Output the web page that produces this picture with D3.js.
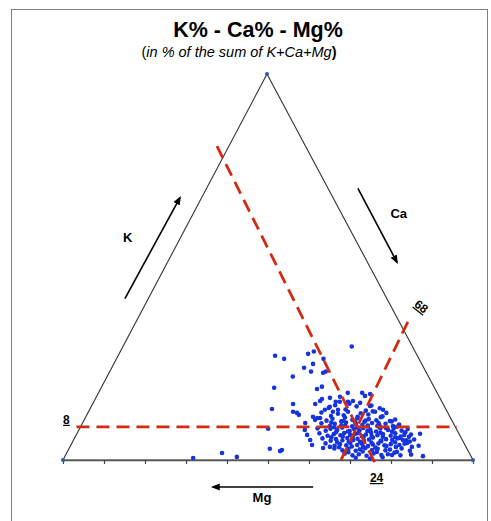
<!DOCTYPE html>
<html>
<head>
<meta charset="utf-8">
<script src="https://cdn.jsdelivr.net/npm/d3@7/dist/d3.min.js"></script>
<style>
  body { margin: 0; background: #fff; }
  text { font-family: "Liberation Sans", Arial, sans-serif; }
</style>
</head>
<body>
<div id="chart"></div>
<script>
// samples as [K%, Mg%] ; Ca% = 100 - K - Mg
const samples = [
    [29.4,14.8],[27.0,34.7],[26.2,32.9],[27.5,26.4],[28.1,24.7],[23.9,29.2],[24.9,26.5],[22.9,28.0],
    [22.6,25.2],[22.9,24.4],[21.6,33.1],[18.7,39.1],[18.4,28.8],[19.0,27.3],[17.4,21.8],[17.4,18.3],
    [17.1,16.5],[16.6,18.0],[14.5,36.6],[13.2,42.4],[12.5,37.6],[12.2,36.8],[11.7,36.6],[14.5,31.2],
    [15.3,29.6],[15.8,28.9],[16.1,26.8],[15.1,25.9],[16.4,24.2],[15.1,24.9],[15.1,22.9],[15.3,21.6],
    [14.8,20.1],[14.0,18.1],[12.5,17.6],[13.0,15.4],[9.6,36.1],[11.2,33.4],[10.4,33.3],[10.9,31.8],
    [13.0,29.6],[13.8,28.0],[12.5,27.9],[13.0,26.4],[8.1,45.9],[7.8,37.1],[6.5,37.2],[5.2,37.1],
    [3.9,37.3],[2.9,48.1],[2.3,45.9],[2.6,45.3],[3.1,35.0],[3.4,33.2],[6.8,9.5],[1.0,11.7],
    [3.4,13.2],[4.4,13.9],[5.2,14.5],[5.7,14.9],[1.3,19.1],[2.1,17.5],[1.8,60.3],[0.8,57.2],
    [0.5,68.0],[26.2,23.3],
    [13.5,28.4],[14.2,26.5],[13.1,24.5],[14.6,22.8],[13.9,21.4],[12.8,19.7],[14.1,17.7],[13.4,16.0],
    [12.3,30.8],[11.4,28.9],[12.0,26.9],[11.6,25.7],[12.5,24.2],[11.2,22.5],[12.1,21.3],[11.8,19.6],
    [12.6,18.1],[11.3,16.4],[12.2,15.0],
    [10.9,32.5],[10.2,30.6],[10.7,28.9],[10.0,27.1],[11.0,25.7],[10.4,24.2],[10.8,22.8],[9.9,21.5],
    [10.6,20.1],[10.3,18.4],[11.1,16.9],[10.1,15.2],[10.5,13.7],
    [9.7,29.7],[10.1,26.5],[9.8,23.8],[10.2,21.1],[9.6,18.2],[10.0,14.8],
    [9.5,32.2],[8.8,30.5],[9.4,29.0],[9.0,27.6],[9.7,26.1],[8.7,25.1],[9.3,23.9],[9.1,22.4],
    [8.9,21.2],[9.6,19.8],[9.0,18.3],[9.4,16.6],[8.8,15.1],[9.2,13.4],
    [8.5,29.6],[8.9,26.7],[8.4,24.0],[8.7,21.3],[8.8,18.9],[8.3,17.1],[8.6,14.2],
    [8.2,33.8],[7.6,32.1],[8.1,30.7],[7.8,29.2],[8.4,27.7],[7.5,26.3],[8.0,25.0],[7.7,23.8],
    [8.3,22.6],[7.9,21.1],[7.4,19.9],[8.2,18.5],[7.8,16.8],[8.1,15.3],[7.6,13.6],[8.0,11.9],
    [7.2,29.8],[7.4,26.8],[7.0,24.4],[7.5,22.0],[7.1,19.0],[7.3,16.1],[7.2,12.9],
    [6.9,34.0],[6.3,32.3],[6.7,30.6],[6.4,29.1],[7.0,27.9],[6.5,26.7],[6.8,25.2],[6.2,24.0],
    [6.6,22.8],[7.1,21.3],[6.4,20.1],[6.7,18.6],[6.3,16.9],[6.9,15.5],[6.5,13.5],[6.6,11.8],
    [5.9,31.6],[6.1,28.7],[6.0,26.3],[5.8,23.8],[6.2,21.6],[6.0,19.0],[5.9,16.0],[6.1,14.6],[6.0,12.6],
    [5.6,33.9],[5.0,32.2],[5.4,30.7],[5.1,29.3],[5.7,27.8],[5.2,26.6],[5.5,25.4],[4.9,24.1],
    [5.3,22.7],[5.8,21.5],[5.0,20.0],[5.4,18.5],[5.2,17.1],[5.6,15.6],[5.1,13.7],[5.3,11.7],
    [4.6,30.8],[4.8,27.9],[4.7,25.2],[4.5,22.5],[4.9,19.9],[4.6,16.7],[4.8,13.0],
    [4.3,33.8],[3.7,31.9],[4.1,30.4],[3.8,29.0],[4.4,27.7],[3.9,26.3],[4.2,25.0],[3.6,23.8],
    [4.0,22.4],[4.3,20.9],[3.8,19.7],[4.1,18.0],[3.9,16.0],[4.2,14.6],[3.7,11.4],
    [3.3,31.0],[3.5,27.8],[3.4,25.1],[3.2,22.2],[3.6,19.3],[3.4,17.1],
    [3.0,32.3],[2.5,30.6],[2.9,28.9],[2.4,27.4],[2.8,26.2],[3.1,24.7],[2.6,23.3],[2.9,21.8],
    [2.5,20.1],[2.7,18.9],[3.0,15.9],[2.4,14.2],
    [2.0,29.4],[2.2,25.8],[2.1,22.4],[1.9,18.2],
    [1.6,30.5],[1.2,28.8],[1.5,27.1],[1.1,25.4],[1.7,23.4],[1.3,21.7],[1.5,20.0],[1.2,17.1],
    [1.4,14.4],
    [0.6,28.3],[0.4,24.9],[0.7,21.7]
];

// limit lines, ends as [K%, Mg%]
const limitNames = ["8", "24", "68"];
const limitFrom = [[8.6, 92.4], [81.3, 21.6], [35.8, -2.1]];
const limitTo = [[8.6, -0.4], [-1.3, 24.3], [0, 32.2]];

const mgTicks = [0, 10, 20, 30, 40, 50, 60, 70, 80, 90, 100];
const axisNames = ["K", "Ca", "Mg"];

const W = 491, H = 521;
const left = 63, right = 473, base = 460, apexX = 267, apexY = 74;
const shift = (apexX - left) / (right - left);

const svg = d3.select("#chart").append("svg")
    .attr("width", W).attr("height", H);

// frame
svg.append("rect")
    .attr("x", 11.5).attr("y", 9.5)
    .attr("width", 476).attr("height", 530)
    .attr("fill", "none").attr("stroke", "#808080").attr("stroke-width", 1);

// scales
const yK = d3.scaleLinear().domain([0, 100]).range([base, apexY]);
const xCa = d3.scaleLinear().domain([0, 100]).range([left, right]);
const xMg = d3.scaleLinear().domain([0, 100]).range([right, left]);

// ternary -> pixel, from K and Mg
const proj = (k, mg) => {
    const ca = 100 - k - mg;
    return [xCa(ca + k * shift), yK(k)];
};

// title
svg.append("text")
    .attr("x", 258).attr("y", 37)
    .attr("text-anchor", "middle")
    .attr("font-size", 21.5).attr("font-weight", "bold")
    .text("K% - Ca% - Mg%");

const sub = svg.append("text")
    .attr("x", 239).attr("y", 57)
    .attr("text-anchor", "middle")
    .attr("font-size", 14.5);
sub.append("tspan").text("(");
sub.append("tspan").attr("font-style", "italic").text("in % of the sum of K+Ca+Mg");
sub.append("tspan").attr("font-weight", "bold").text(")");

// triangle
const corners = [proj(100, 0), proj(0, 0), proj(0, 100)];
svg.append("path")
    .attr("d", d3.line()(corners) + "Z")
    .attr("fill", "none").attr("stroke", "#333").attr("stroke-width", 1.1);

// bottom ticks
const axisG = svg.append("g")
    .attr("transform", `translate(0,${base})`)
    .call(d3.axisBottom(xMg).tickValues(mgTicks).tickSize(4).tickSizeOuter(0).tickFormat(""));
axisG.select(".domain").attr("stroke", "#555").attr("stroke-width", 1.6);
axisG.selectAll(".tick line").attr("stroke", "#444").attr("stroke-width", 1.2);

// vertex dots
svg.append("g").selectAll("circle")
    .data(corners)
    .join("circle")
    .attr("cx", d => d[0]).attr("cy", d => d[1])
    .attr("r", 2).attr("fill", "#2a5db0");

// samples
svg.append("g").selectAll("circle")
    .data(samples)
    .join("circle")
    .attr("cx", d => proj(d[0], d[1])[0])
    .attr("cy", d => proj(d[0], d[1])[1])
    .attr("r", 2.3)
    .attr("fill", "#1533e0");

// limit lines (drawn over the points)
const red = "#d22b12";
svg.append("g").selectAll("line")
    .data(limitNames)
    .join("line")
    .attr("x1", (d, i) => proj(...limitFrom[i])[0])
    .attr("y1", (d, i) => proj(...limitFrom[i])[1])
    .attr("x2", (d, i) => proj(...limitTo[i])[0])
    .attr("y2", (d, i) => proj(...limitTo[i])[1])
    .attr("stroke", red).attr("stroke-width", 2.8)
    .attr("stroke-dasharray", "13,7");

// limit labels
const kEnd = proj(...limitFrom[0]);
svg.append("text")
    .attr("x", kEnd[0] - 10).attr("y", kEnd[1] - 3)
    .attr("text-anchor", "middle").attr("font-size", 12).attr("font-weight", "bold")
    .attr("text-decoration", "underline")
    .text(limitNames[0]);

const mgEnd = proj(0, 24);
svg.append("text")
    .attr("x", mgEnd[0] + 2).attr("y", mgEnd[1] + 22)
    .attr("text-anchor", "middle").attr("font-size", 12).attr("font-weight", "bold")
    .attr("text-decoration", "underline")
    .text(limitNames[1]);

const caEnd = proj(...limitFrom[2]);
svg.append("text")
    .attr("transform", `translate(${caEnd[0] + 11},${caEnd[1] - 12}) rotate(38)`)
    .attr("text-anchor", "middle").attr("font-size", 12).attr("font-weight", "bold")
    .attr("text-decoration", "underline")
    .text(limitNames[2]);

// direction arrows
svg.append("defs").append("marker")
    .attr("id", "head")
    .attr("viewBox", "0 0 10 10")
    .attr("refX", 8).attr("refY", 5)
    .attr("markerWidth", 5.5).attr("markerHeight", 5.5)
    .attr("orient", "auto")
    .append("path").attr("d", "M0,1L10,5L0,9Z").attr("fill", "#000");

// arrows: [from K,Mg] -> [to K,Mg], sitting just outside each side
const arrows = [
    [[41.8, 63.9], [68, 37.3]],
    [[70.4, -7.3], [51.2, -7.2]],
    [[-7, 42.5], [-7, 67]]
];
svg.append("g").selectAll("line")
    .data(arrows)
    .join("line")
    .attr("x1", d => proj(...d[0])[0]).attr("y1", d => proj(...d[0])[1])
    .attr("x2", d => proj(...d[1])[0]).attr("y2", d => proj(...d[1])[1])
    .attr("stroke", "#000").attr("stroke-width", 1.6)
    .attr("marker-end", "url(#head)");

const namePos = [[57.7, 55.2], [63.9, -14], [-9.6, 56.3]];
svg.append("g").selectAll("text")
    .data(axisNames)
    .join("text")
    .attr("x", (d, i) => proj(...namePos[i])[0])
    .attr("y", (d, i) => proj(...namePos[i])[1])
    .attr("text-anchor", "middle")
    .attr("dominant-baseline", "central")
    .attr("font-size", 13).attr("font-weight", "bold")
    .text(d => d);
</script>
</body>
</html>
